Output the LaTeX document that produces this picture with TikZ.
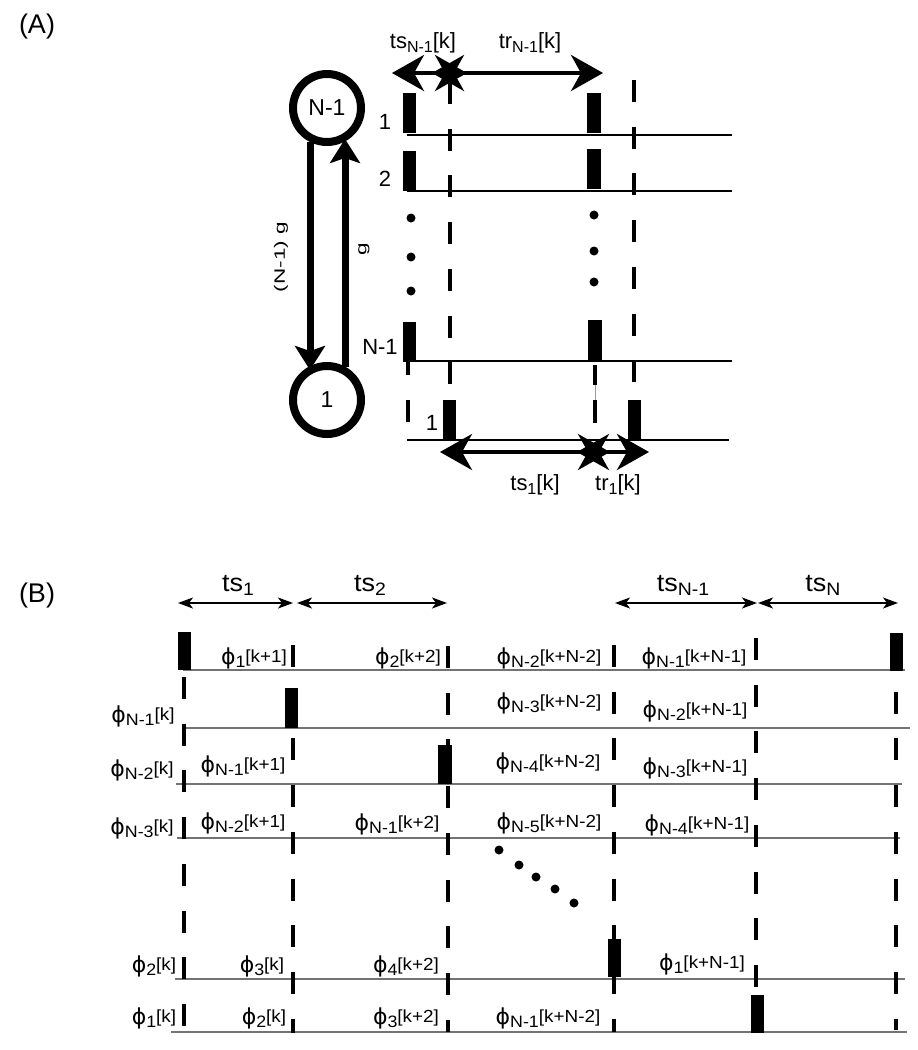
\documentclass[tikz,border=0pt]{standalone}
\usepackage{fontspec}
\setmainfont{Liberation Sans}
\newfontfamily\bfam[FakeStretch=1.08]{Liberation Sans}
\newfontfamily\wfam[FakeStretch=1.5]{Liberation Sans}
\newfontfamily\phifam{DejaVu Sans}
\usetikzlibrary{arrows.meta,calc}
\newcommand\phl[2]{{\phifam\fontsize{22}{22}\selectfont ϕ}\raisebox{-3pt}{\fontsize{16.5}{16.5}\selectfont #1}\raisebox{2pt}{\fontsize{17.5}{17.5}\selectfont[#2]}}
\newcommand\subA[1]{\raisebox{-4pt}{\fontsize{16}{16}\selectfont #1}}
\begin{document}
\begin{tikzpicture}[x=1pt,y=-1pt,
  rowA/.style={line width=2pt},
  dashA/.style={line width=4pt, dash pattern=on 22pt off 24.7pt},
  bigarr/.style={line width=4pt, {Stealth[length=32pt,width=36pt,inset=10pt]}-{Stealth[length=32pt,width=36pt,inset=10pt]}},
  circ/.style={circle, draw, line width=8pt, minimum size=68pt, inner sep=0pt, font=\fontsize{23}{25}\selectfont},
  circarr/.style={line width=7pt, -{Stealth[length=24pt,width=30pt,inset=5pt]}},
  lbl/.style={inner sep=0pt, font=\fontsize{22}{24}\selectfont},
  rlbl/.style={inner sep=0pt, font=\wfam\fontsize{15}{17}\selectfont, rotate=90},
  panel/.style={inner sep=0pt, font=\fontsize{27}{29}\selectfont},
  rowB/.style={line width=1.5pt, draw=black!55},
  dashB/.style={line width=4pt, dash pattern=on 22pt off 24.7pt},
  thinarr/.style={line width=1.3pt, {Stealth[length=15pt,width=11pt,inset=4pt]}-{Stealth[length=15pt,width=11pt,inset=4pt]}},
  lblB/.style={inner sep=0pt, font=\bfam},
  hdB/.style={inner sep=0pt, font=\bfam\fontsize{25}{27}\selectfont}
]
\useasboundingbox (0,0) rectangle (918,1050);
\fill[white] (0,0) rectangle (918,1050);

% ---------------- Panel A ----------------
\node[panel] (pA) at (37,27) {(A)};
\node[circ] (top) at (327,108) {N-1};
\node[circ] (bot) at (327,400) {1};
\draw[circarr] ($(top.center)+(-17,34)$) -- ($(bot.center)+(-17,-30)$);
\draw[circarr] ($(bot.center)+(18,-33)$) -- ($(top.center)+(18,31)$);
\node[rlbl] (lg1) at (281,257) {(N-1) g};
\node[rlbl] (lg2) at (364,249) {g};

% dashed verticals
\draw[dashA] (450,82) -- (450,386);
\draw[dashA] (634,80) -- (634,384);
\draw[line width=3.5pt] (408,362) -- (408,375);
\draw[line width=3.5pt] (408,400) -- (408,422);
\draw[line width=3.5pt] (595,365) -- (595,385);
\draw[line width=0.8pt, black!40] (595,385) -- (595,400);
\draw[line width=3.5pt] (595,400) -- (595,423);

% rows
\draw[rowA] (407,135) -- (732,135);
\draw[rowA] (407,191) -- (732,191);
\draw[rowA] (407,361) -- (732,361);
\draw[rowA] (407,440) -- (729,440);
\node[lbl] (r1) at (385,122) {1};
\node[lbl] (r2) at (385,179) {2};
\node[lbl] (r3) at (380,347) {N-1};
\node[lbl] (r4) at (432,423) {1};

% bars
\fill (403,93) rectangle (416,133);
\fill (587,93) rectangle (601,133);
\fill (403,151) rectangle (416,191);
\fill (587,149) rectangle (601,189);
\fill (403,322) rectangle (416,362);
\fill (588,320) rectangle (602,360);
\fill (443,400) rectangle (456,440);
\fill (628,400) rectangle (641,440);

% dots
\foreach \y in {218,257,291} \fill (411,\y) circle (4.5);
\foreach \y in {215,251,282} \fill (594,\y) circle (4.5);

% arrows
\coordinate (a1) at (392,73); \coordinate (a2) at (467,73);
\coordinate (a3) at (432,73); \coordinate (a4) at (603,73);
\coordinate (b1) at (440,452); \coordinate (b2) at (610,452);
\coordinate (b3) at (577,452); \coordinate (b4) at (649,452);
\draw[bigarr] (a1) -- (a2);
\draw[bigarr] (a3) -- (a4);
\draw[bigarr] (b1) -- (b2);
\draw[bigarr] (b3) -- (b4);
\node[lbl] (tsA) at (423,43) {ts\subA{N-1}[k]};
\node[lbl] (trA) at (530,43) {tr\subA{N-1}[k]};
\node[lbl] (tsB) at (535,485) {ts\subA{1}[k]};
\node[lbl] (trB) at (618,485) {tr\subA{1}[k]};

% ---------------- Panel B ----------------
\node[panel] (pB) at (37,596) {(B)};
\coordinate (h1) at (178,603); \coordinate (h2) at (293,603);
\coordinate (h3) at (297,603); \coordinate (h4) at (447,603);
\coordinate (h5) at (615,603); \coordinate (h6) at (757,603);
\coordinate (h7) at (758,603); \coordinate (h8) at (898,603);
\draw[thinarr] (h1) -- (h2);
\draw[thinarr] (h3) -- (h4);
\draw[thinarr] (h5) -- (h6);
\draw[thinarr] (h7) -- (h8);
\node[hdB] (t1) at (238,585) {ts\raisebox{-4pt}{\fontsize{18}{18}\selectfont 1}};
\node[hdB] (t2) at (370,585) {ts\raisebox{-4pt}{\fontsize{18}{18}\selectfont 2}};
\node[hdB] (t3) at (683,585) {ts\raisebox{-4pt}{\fontsize{18}{18}\selectfont N-1}};
\node[hdB] (t4) at (823,585) {ts\raisebox{-4pt}{\fontsize{18}{18}\selectfont N}};

% rows
\draw[rowB] (183,670) -- (905,670);
\draw[rowB] (182,728) -- (910,728);
\draw[rowB] (176,784) -- (902,784);
\draw[rowB] (177,838) -- (900,838);
\draw[rowB] (175,979) -- (905,979);
\draw[rowB] (171,1032) -- (907,1032);

% dashed columns
\draw[dashB] (184,677) -- (184,1032);
\draw[dashB] (293,645) -- (293,1033);
\draw[dashB] (448,646) -- (448,1032);
\draw[dashB] (614,645) -- (614,1032);
\draw[dashB] (756,638) -- (756,1032);
\draw[dashB] (896,645) -- (896,1030);

% bars
\fill (178,632) rectangle (191,670);
\fill (285,688) rectangle (298,728);
\fill (438,745) rectangle (452,784);
\fill (608,939) rectangle (621,977);
\fill (751,995) rectangle (764,1033);
\fill (890,633) rectangle (903,671);

% labels
\node[lblB] (l11) at (254,658) {\phl{1}{k+1}};
\node[lblB] (l12) at (408,658) {\phl{2}{k+2}};
\node[lblB] (l13) at (549,658) {\phl{N-2}{k+N-2}};
\node[lblB] (l14) at (694,658) {\phl{N-1}{k+N-1}};
\node[lblB] (l21) at (143,716) {\phl{N-1}{k}};
\node[lblB] (l22) at (549,703) {\phl{N-3}{k+N-2}};
\node[lblB] (l23) at (695,711) {\phl{N-2}{k+N-1}};
\node[lblB] (l31) at (142,770) {\phl{N-2}{k}};
\node[lblB] (l32) at (243,766) {\phl{N-1}{k+1}};
\node[lblB] (l33) at (548,763) {\phl{N-4}{k+N-2}};
\node[lblB] (l34) at (695,768) {\phl{N-3}{k+N-1}};
\node[lblB] (l41) at (142,828) {\phl{N-3}{k}};
\node[lblB] (l42) at (243,823) {\phl{N-2}{k+1}};
\node[lblB] (l43) at (397,824) {\phl{N-1}{k+2}};
\node[lblB] (l44) at (549,823) {\phl{N-5}{k+N-2}};
\node[lblB] (l45) at (697,825) {\phl{N-4}{k+N-1}};
\node[lblB] (l51) at (154,966) {\phl{2}{k}};
\node[lblB] (l52) at (262,966) {\phl{3}{k}};
\node[lblB] (l53) at (406,966) {\phl{4}{k+2}};
\node[lblB] (l54) at (702,964) {\phl{1}{k+N-1}};
\node[lblB] (l61) at (154,1018) {\phl{1}{k}};
\node[lblB] (l62) at (264,1018) {\phl{2}{k}};
\node[lblB] (l63) at (406,1018) {\phl{3}{k+2}};
\node[lblB] (l64) at (548,1018) {\phl{N-1}{k+N-2}};

% diagonal dots
\foreach \p in {(499,850),(519,865),(536,877),(555,889),(574,903)} \fill \p circle (4.5);
\end{tikzpicture}
\end{document}
